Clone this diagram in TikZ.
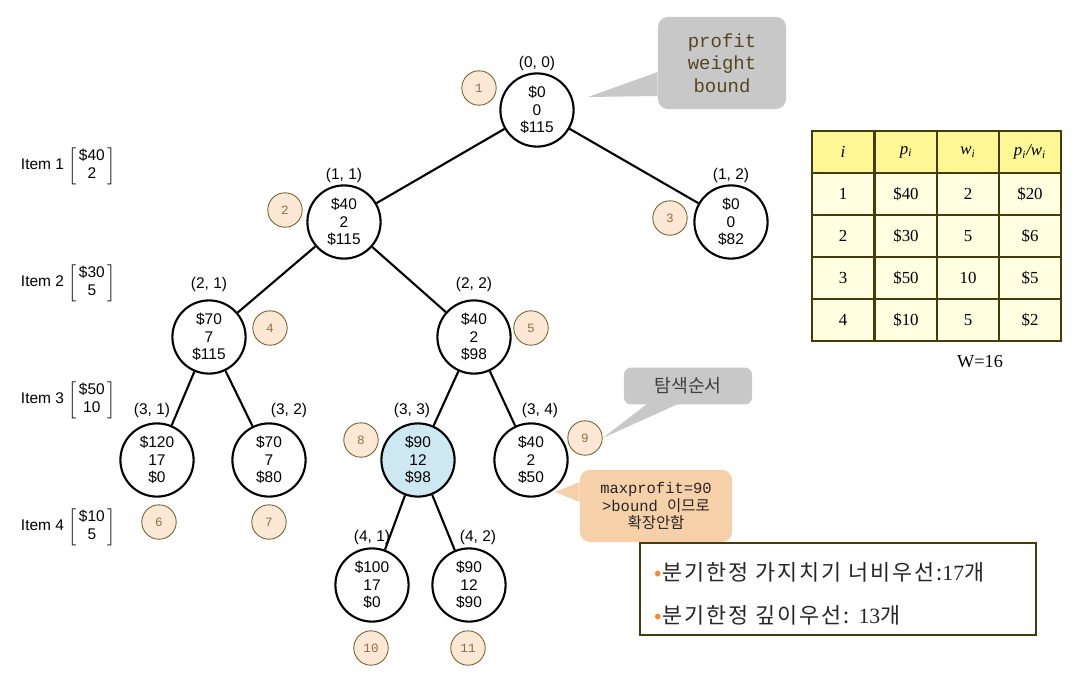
\documentclass[tikz,border=0pt]{standalone}
\usepackage{fontspec}
\usepackage{amsmath}
\setmainfont{Liberation Sans}
\newfontfamily\monofont{Liberation Mono}
\newfontfamily\serifont{Liberation Serif}
\newfontfamily\kofont{Noto Sans CJK KR}
\newfontfamily\kowide[LetterSpace=9]{Noto Sans CJK KR}
\usetikzlibrary{positioning}
\definecolor{OrderFill}{RGB}{252, 232, 212}
\definecolor{OrderLine}{RGB}{110, 95, 40}
\definecolor{OrderText}{RGB}{150, 110, 70}
\definecolor{CalloutGray}{RGB}{200, 200, 200}
\definecolor{CalloutPeach}{RGB}{246, 208, 168}
\definecolor{CalloutText}{RGB}{85, 70, 30}
\definecolor{NodeBlue}{RGB}{206, 232, 242}
\definecolor{TableLine}{RGB}{70, 60, 10}
\definecolor{HeadFill}{RGB}{255, 246, 150}
\definecolor{BodyFill}{RGB}{255, 255, 226}
\definecolor{BulletColor}{RGB}{245, 140, 50}

\begin{document}
\begin{tikzpicture}[
    x=0.025cm, y=-0.025cm,
    knode/.style={circle, draw=black, line width=1.5pt, minimum size=1.83cm, inner sep=0pt,
        align=center, font=\fontsize{11}{12.5}\selectfont},
    tag/.style={font=\fontsize{11}{13}\selectfont},
    order/.style={circle, draw=OrderLine, fill=OrderFill, line width=0.6pt, minimum size=0.86cm,
        inner sep=0pt, text=OrderText, font=\monofont\fontsize{9}{10}\selectfont},
    cell/.style={draw=TableLine, line width=1.1pt, minimum width=1.55cm, minimum height=1.05cm,
        inner sep=0pt, font=\serifont\fontsize{12}{14}\selectfont},
    item/.style={anchor=west, font=\fontsize{11}{13}\selectfont}
]
\useasboundingbox (0,0) rectangle (1087,680);

% --- Tree nodes: name/x/y/profit/weight/bound/fill ---
\foreach \nm/\x/\y/\p/\w/\b/\f in {n00/537/110/\$0/0/\$115/white,
    n11/344/222/\$40/2/\$115/white, n12/731/222/\$0/0/\$82/white,
    n21/209/337/\$70/7/\$115/white, n22/474/337/\$40/2/\$98/white,
    n31/157/460/\$120/17/\$0/white, n32/269/460/\$70/7/\$80/white,
    n33/418/460/\$90/12/\$98/NodeBlue, n34/531/460/\$40/2/\$50/white,
    n41/372/585/\$100/17/\$0/white, n42/469/585/\$90/12/\$90/white}
{
    \node[knode, fill=\f] (\nm) at (\x,\y) {\p\\\w\\\b};
}

% --- Level tags above the nodes ---
\foreach \nm/\x/\y/\t in {t00/537/63/{(0, 0)}, t11/344/175/{(1, 1)}, t12/731/175/{(1, 2)},
    t21/209/284/{(2, 1)}, t22/474/284/{(2, 2)}, t31/152/410/{(3, 1)}, t32/289/410/{(3, 2)},
    t33/412/410/{(3, 3)}, t34/540/410/{(3, 4)}, t41/372/537/{(4, 1)}, t42/478/537/{(4, 2)}}
{
    \node[tag] (\nm) at (\x,\y) {\t};
}

% --- Edges ---
\foreach \a/\b in {n00/n11, n00/n12, n11/n21, n11/n22, n21/n31, n21/n32,
    n22/n33, n22/n34, n33/n41, n33/n42}
{
    \draw[line width=1.5pt] (\a) -- (\b);
}

% --- Search order ---
\foreach \k/\x/\y in {1/479/88, 2/285/210, 3/670/218, 4/270/328, 5/531/328, 6/159/522,
    7/269/522, 8/361/440, 9/585/438, 10/371/648, 11/468/648}
{
    \node[order] (o\k) at (\x,\y) {\k};
}

% --- Items ---
\renewcommand{\arraystretch}{0.95}
\foreach \k/\y/\p/\w in {1/166/\$40/2, 2/283/\$30/5, 3/400/\$50/10, 4/527/\$10/5}
{
    \node[item] (item\k) at (16,\y) {Item \k\ $\left[\,\begin{tabular}{@{}c@{}}\p\\\w\end{tabular}\,\right]$};
}

% --- Callouts ---
\node[fill=CalloutGray, rounded corners=7pt, minimum width=3.2cm, minimum height=2.3cm, align=center,
    text=CalloutText, font=\monofont\fontsize{13.5}{16}\selectfont] (legend) at (722,63) {profit\\weight\\bound};
\fill[CalloutGray] (588,97) -- (legend.west |- 0,72) -- (legend.west |- 0,96) -- cycle;

\node[fill=CalloutGray, rounded corners=5pt, minimum width=3.2cm, minimum height=0.92cm,
    text=black!75, font=\kofont\fontsize{13}{15}\selectfont] (order) at (688,386) {탐색순서};
\fill[CalloutGray] (o9.east) -- (647,404) -- (678,404) -- cycle;

\node[fill=CalloutPeach, rounded corners=7pt, minimum width=3.8cm, minimum height=1.8cm, align=center,
    text=black!85, font=\monofont\fontsize{11}{12.5}\selectfont] (prune) at (656,506)
    {maxprofit=90\\>bound {\kofont 이므로}\\{\kofont 확장안함}};
\fill[CalloutPeach] (555,492) -- (prune.west |- 0,482) -- (prune.west |- 0,502) -- cycle;

% --- Summary box ---
\node[draw=TableLine, line width=0.8pt, minimum width=9.9cm, minimum height=2.3cm] (summary) at (838,589) {};
\node[anchor=west, font=\kowide\fontsize{15.5}{17}\selectfont, text=black!85] (s1) at (650,572)
    {{\color{BulletColor}\textbullet}분기한정 가지치기 너비우선:{\serifont 17}개};
\node[anchor=west, font=\kowide\fontsize{15.5}{17}\selectfont, text=black!85] (s2) at (650,615)
    {{\color{BulletColor}\textbullet}분기한정 깊이우선: {\serifont 13}개};

% --- Table ---
\foreach \c/\x/\h in {1/843/i, 2/906/p\textsubscript{i}, 3/968/w\textsubscript{i},
    4/1030/{p\textsubscript{i}/w\textsubscript{i}}}
{
    \node[cell, fill=HeadFill] (c-0-\c) at (\x,152) {\itshape \h};
}
\foreach \r/\y/\p/\w/\q in {1/194/\$40/2/\$20, 2/236/\$30/5/\$6, 3/278/\$50/10/\$5, 4/320/\$10/5/\$2}
{
    \node[cell, fill=BodyFill] (c-\r-1) at (843,\y) {\r};
    \node[cell, fill=BodyFill] (c-\r-2) at (906,\y) {\p};
    \node[cell, fill=BodyFill] (c-\r-3) at (968,\y) {\w};
    \node[cell, fill=BodyFill] (c-\r-4) at (1030,\y) {\q};
}
\node[font=\serifont\fontsize{13}{15}\selectfont] (cap) at (980,362) {W=16};

\end{tikzpicture}
\end{document}
